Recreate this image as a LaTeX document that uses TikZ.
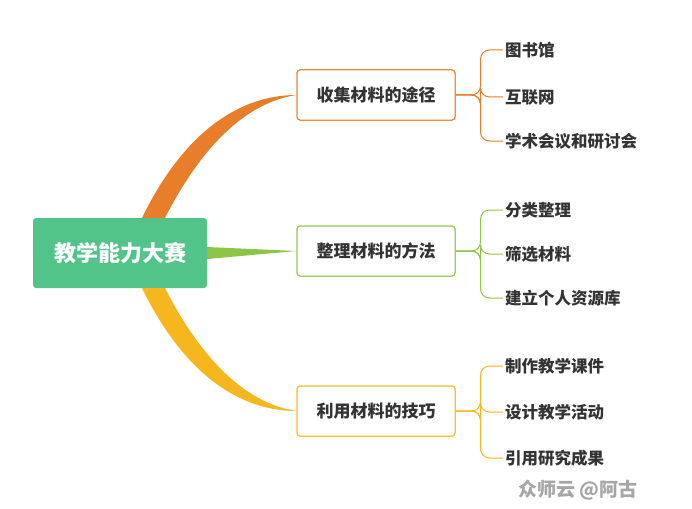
\documentclass[tikz,border=0pt]{standalone}
\usepackage{fontspec}
\setmainfont{Noto Sans CJK SC}
\usetikzlibrary{calc}
\definecolor{rootgreen}{RGB}{82,196,138}
\definecolor{corange}{RGB}{232,125,42}
\definecolor{cgreen}{RGB}{140,196,72}
\definecolor{cyellow}{RGB}{246,182,30}
\definecolor{txt}{RGB}{51,51,51}
\tikzset{
  rootbox/.style={fill=rootgreen,rounded corners=3pt,minimum width=174pt,minimum height=70pt,text=white,font=\fontsize{22}{26}\selectfont\bfseries},
  branchbox/.style={draw=#1,line width=1pt,fill=white,rounded corners=3pt,minimum width=158pt,minimum height=50pt,text=txt,font=\fontsize{17}{20}\selectfont\bfseries},
  leaf/.style={anchor=west,text=txt,inner sep=2pt,font=\fontsize{16.5}{19}\selectfont\bfseries},
  fork/.style={draw=#1,line width=1pt,rounded corners=9pt}
}
\begin{document}
\begin{tikzpicture}[x=1pt,y=-1pt]
  \useasboundingbox (0,0) rectangle (692,508);
  % root and branches
  \node[rootbox] (root) at (120,253) {教学能力大赛};
  \node[branchbox=corange] (b1) at (376,95) {收集材料的途径};
  \node[branchbox=cgreen] (b2) at (376,251) {整理材料的方法};
  \node[branchbox=cyellow] (b3) at (376,411) {利用材料的技巧};

  % tapered connectors
  \fill[corange] ($(root.north)+(22,0)$) .. controls (190,120) and (250,95) .. (b1.west)
    .. controls (250,102) and (205,140) .. ($(root.north)+(45,0)$) -- cycle;
  \fill[cgreen] ($(root.east)+(0,-6)$) -- (b2.west) -- ($(root.east)+(0,6)$) -- cycle;
  \fill[cyellow] ($(root.south)+(22,0)$) .. controls (190,386) and (250,411) .. (b3.west)
    .. controls (250,404) and (205,366) .. ($(root.south)+(45,0)$) -- cycle;
  \node[branchbox=corange] at (b1) {收集材料的途径};
  \node[branchbox=cgreen] at (b2) {整理材料的方法};
  \node[branchbox=cyellow] at (b3) {利用材料的技巧};

  % leaves
  \node[leaf] (l11) at (503,50) {图书馆};
  \node[leaf] (l12) at (503,97) {互联网};
  \node[leaf] (l13) at (503,141) {学术会议和研讨会};
  \node[leaf] (l21) at (503,210) {分类整理};
  \node[leaf] (l22) at (503,254) {筛选材料};
  \node[leaf] (l23) at (503,298) {建立个人资源库};
  \node[leaf] (l31) at (503,366) {制作教学课件};
  \node[leaf] (l32) at (503,412) {设计教学活动};
  \node[leaf] (l33) at (503,458) {引用研究成果};

  \foreach \b/\c in {1/corange,2/cgreen,3/cyellow}{
    \foreach \i in {1,2,3}{
      \draw[fork=\c] (b\b.east) -- ++(25,0) |- (l\b\i.west);
    }
  }

  \node[text=black!35,font=\fontsize{19}{22}\selectfont\bfseries] (mark) at (578,490) {众师云 @阿古};
\end{tikzpicture}
\end{document}
